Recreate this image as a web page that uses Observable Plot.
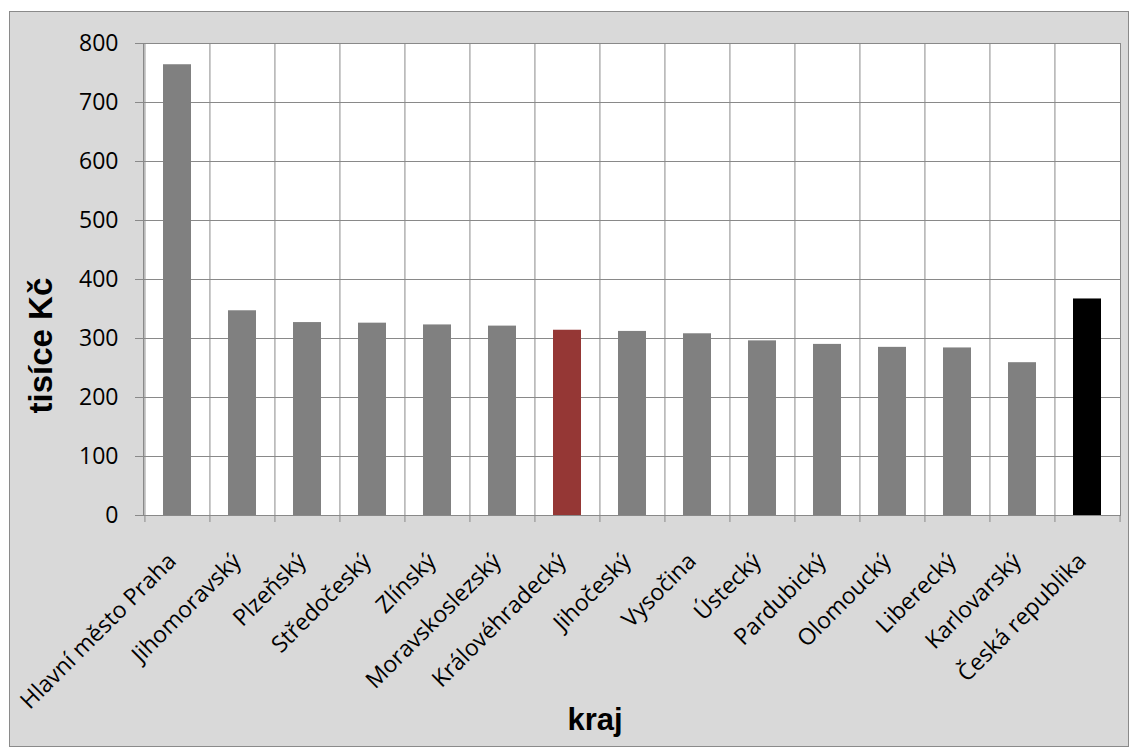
<!DOCTYPE html>
<html><head><meta charset="utf-8">
<script src="https://cdn.jsdelivr.net/npm/d3@7"></script>
<script src="https://cdn.jsdelivr.net/npm/@observablehq/plot@0.6"></script>
<style>
body{margin:0;background:#fff;}
#panel{position:absolute;left:9px;top:11px;width:1118px;height:734px;border:1px solid #8a8a8a;background:#d9d9d9;}
#panel svg{display:block;overflow:visible;}
</style></head><body><div id="panel"></div>
<script>
const categories = ["Hlavní město Praha","Jihomoravský","Plzeňský","Středočeský","Zlínský","Moravskoslezský","Královéhradecký","Jihočeský","Vysočina","Ústecký","Pardubický","Olomoucký","Liberecký","Karlovarský","Česká republika"];
const values = [764, 347, 327, 326, 323, 321, 314, 312, 308, 296, 290, 285, 284, 259, 367];
const yTicks = [0, 100, 200, 300, 400, 500, 600, 700, 800];
const yLabel = "tisíce Kč";
const xLabel = "kraj";
const highlighted = "Královéhradecký";
const total = "Česká republika";

const data = categories.map((k, i) => ({kraj: k, value: values[i]}));
const W = 1118, H = 734, mL = 133, mR = 8, mT = 31, mB = 231;
const padInner = 0.57;
const step = (W - mL - mR) / categories.length;
const pxPerUnit = (H - mT - mB) / 800;
const tickLen = 7 / pxPerUnit;
const grid = "#898989";
const fillFor = k => k === highlighted ? "#953735" : k === total ? "#000000" : "#808080";

const chart = Plot.plot({
  width: W, height: H,
  marginLeft: mL, marginRight: mR, marginTop: mT, marginBottom: mB,
  style: {background: "transparent", fontFamily: "'Open Sans', sans-serif", color: "#000", overflow: "visible"},
  x: {domain: categories, paddingInner: padInner, paddingOuter: padInner / 2, axis: null},
  y: {domain: [0, 800], axis: null},
  color: {type: "identity"},
  marks: [
    Plot.frame({fill: "#fff"}),
    Plot.gridY(yTicks, {stroke: grid, strokeOpacity: 1}),
    Plot.ruleX(categories, {x: d => d, dx: -step / 2, stroke: grid}),
    Plot.barY(data, {x: "kraj", y: "value", fill: d => fillFor(d.kraj)}),
    Plot.frame({stroke: grid}),
    Plot.ruleX(categories, {x: d => d, dx: -step / 2, y1: 0, y2: -tickLen, stroke: grid}),
    Plot.ruleX([categories[categories.length - 1]], {x: d => d, dx: step / 2, y1: 0, y2: -tickLen, stroke: grid}),
    Plot.axisY(yTicks, {tickSize: 8, tickPadding: 17, stroke: grid, strokeOpacity: 1, fontSize: 23, label: null, tickFormat: d => String(d)}),
    Plot.text(categories, {x: d => d, text: d => d, frameAnchor: "bottom", lineAnchor: "bottom", dy: 47, dx: 0, rotate: -45, textAnchor: "end", fontSize: 23, fill: "#000"}),
    Plot.text([yLabel], {text: d => d, frameAnchor: "bottom-left", textAnchor: "start", lineAnchor: "middle", dx: -102, dy: -102, rotate: -90, fontSize: 33, fontWeight: "bold", fontFamily: "'Liberation Sans', Arial, sans-serif", fill: "#000"}),
    Plot.text([xLabel], {text: d => d, frameAnchor: "bottom", textAnchor: "middle", lineAnchor: "bottom", dx: -37, dy: 214, fontSize: 31, fontWeight: "bold", fontFamily: "'Liberation Sans', Arial, sans-serif", fill: "#000"})
  ]
});
document.getElementById("panel").appendChild(chart);
</script></body></html>
